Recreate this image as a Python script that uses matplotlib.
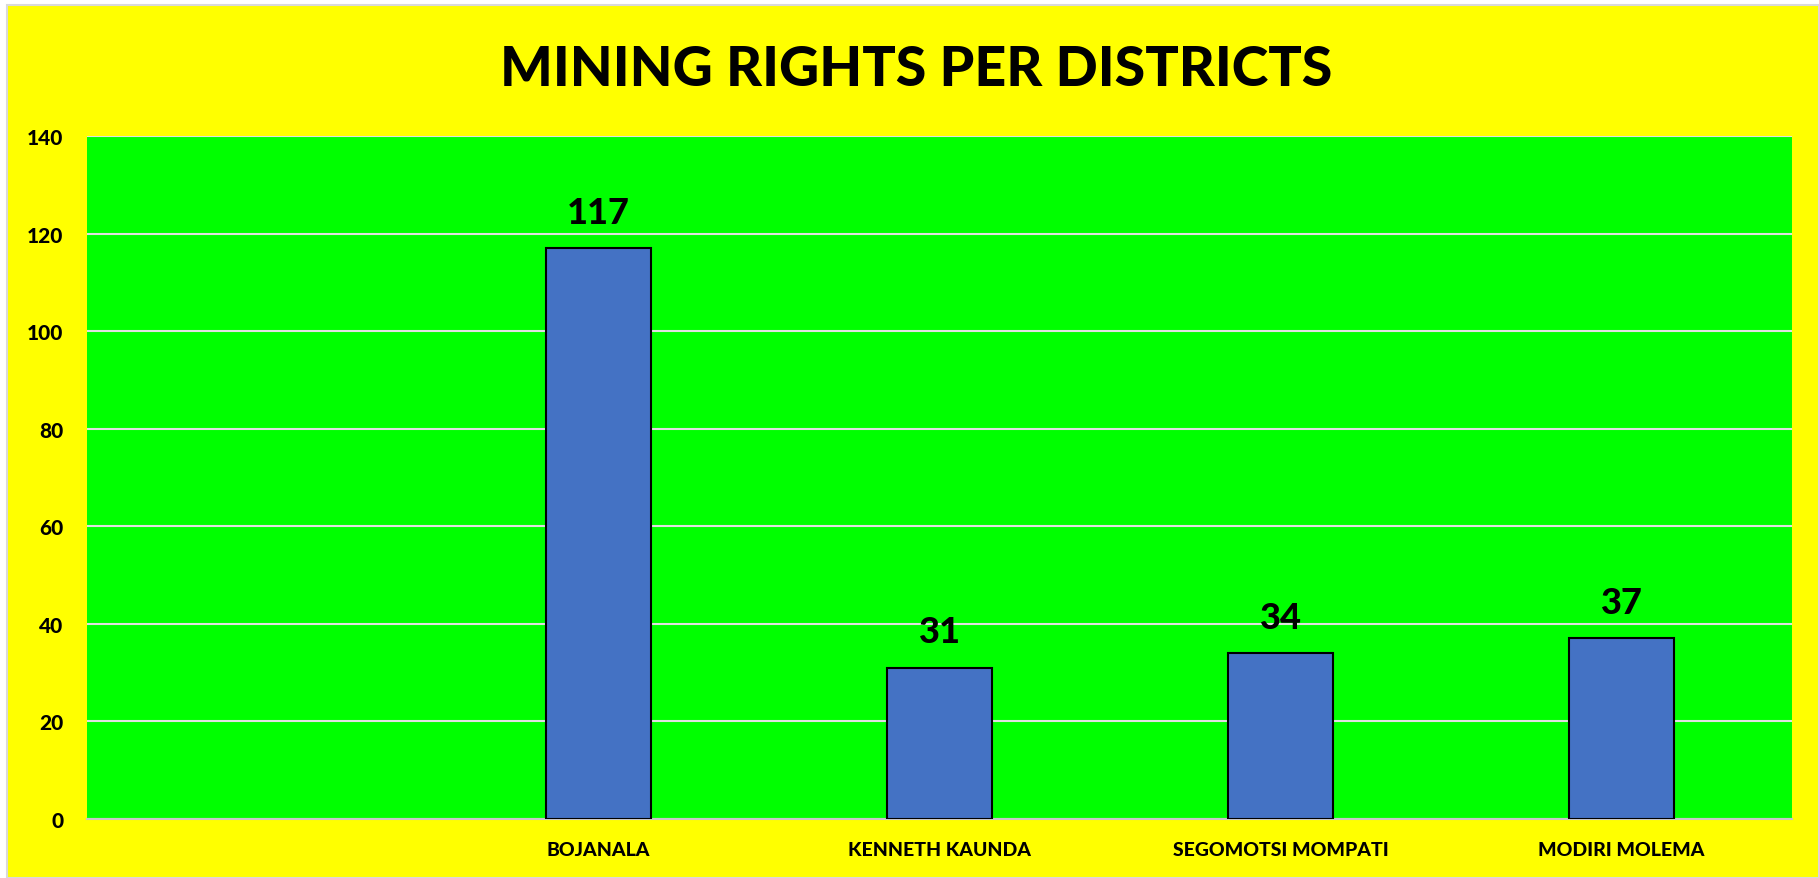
import matplotlib.pyplot as plt
from matplotlib.patches import Rectangle

districts = ["", "BOJANALA", "KENNETH KAUNDA", "SEGOMOTSI MOMPATI", "MODIRI MOLEMA"]
rights = [None, 117, 31, 34, 37]
yticks = [0, 20, 40, 60, 80, 100, 120, 140]

plt.rcParams['font.family'] = ['Lato', 'DejaVu Sans']

W, H = 1819, 879
fig = plt.figure(figsize=(W / 100, H / 100), dpi=100, facecolor='white')
# yellow chart area with thin light frame
fig.patches.append(Rectangle((7 / W, 0), 1 - 7 / W, 1 - 6 / H, transform=fig.transFigure,
                             facecolor='#FFFF00', edgecolor='#D9D9D9', linewidth=1.5, zorder=-5))

ax = fig.add_axes([87 / W, 1 - 820 / H, (1792 - 87) / W, (820 - 137) / H])
ax.set_zorder(2)
ax.set_facecolor('#00FF00')

xs = list(range(len(districts)))
# first category is blank in the source sheet - no bar there
bx = [x for x, v in zip(xs, rights) if v is not None]
bv = [v for v in rights if v is not None]
ax.bar(bx, bv, width=0.31, color='#4472C4', edgecolor='black', linewidth=1.5, zorder=3)
for x, v in zip(bx, bv):
    ax.annotate(str(v), (x, v), xytext=(0, 14), textcoords='offset points',
                ha='center', va='bottom', fontsize=26, fontweight='black', zorder=4)

ax.set_xlim(-0.5, len(districts) - 0.5)
ax.set_ylim(0, 140)
ax.set_yticks(yticks)
ax.set_xticks(xs)
ax.set_xticklabels(districts)
ax.yaxis.grid(True, color='#E0E0E0', linewidth=1.5, zorder=1)
ax.set_axisbelow(True)
for s in ['top', 'right', 'left']:
    ax.spines[s].set_visible(False)
ax.spines['bottom'].set_color('#C8C8C8')
ax.spines['bottom'].set_linewidth(1.5)
ax.tick_params(axis='both', length=0)
ax.tick_params(axis='y', pad=17, labelsize=15)
ax.tick_params(axis='x', pad=16, labelsize=14)
for lbl in ax.get_xticklabels() + ax.get_yticklabels():
    lbl.set_fontweight('black')

fig.text(916 / W, 1 - 70 / H, "MINING RIGHTS PER DISTRICTS", ha='center', va='center',
         fontsize=40, fontweight='black', zorder=3)

fig.savefig('out.png', dpi=100, facecolor=fig.get_facecolor())
